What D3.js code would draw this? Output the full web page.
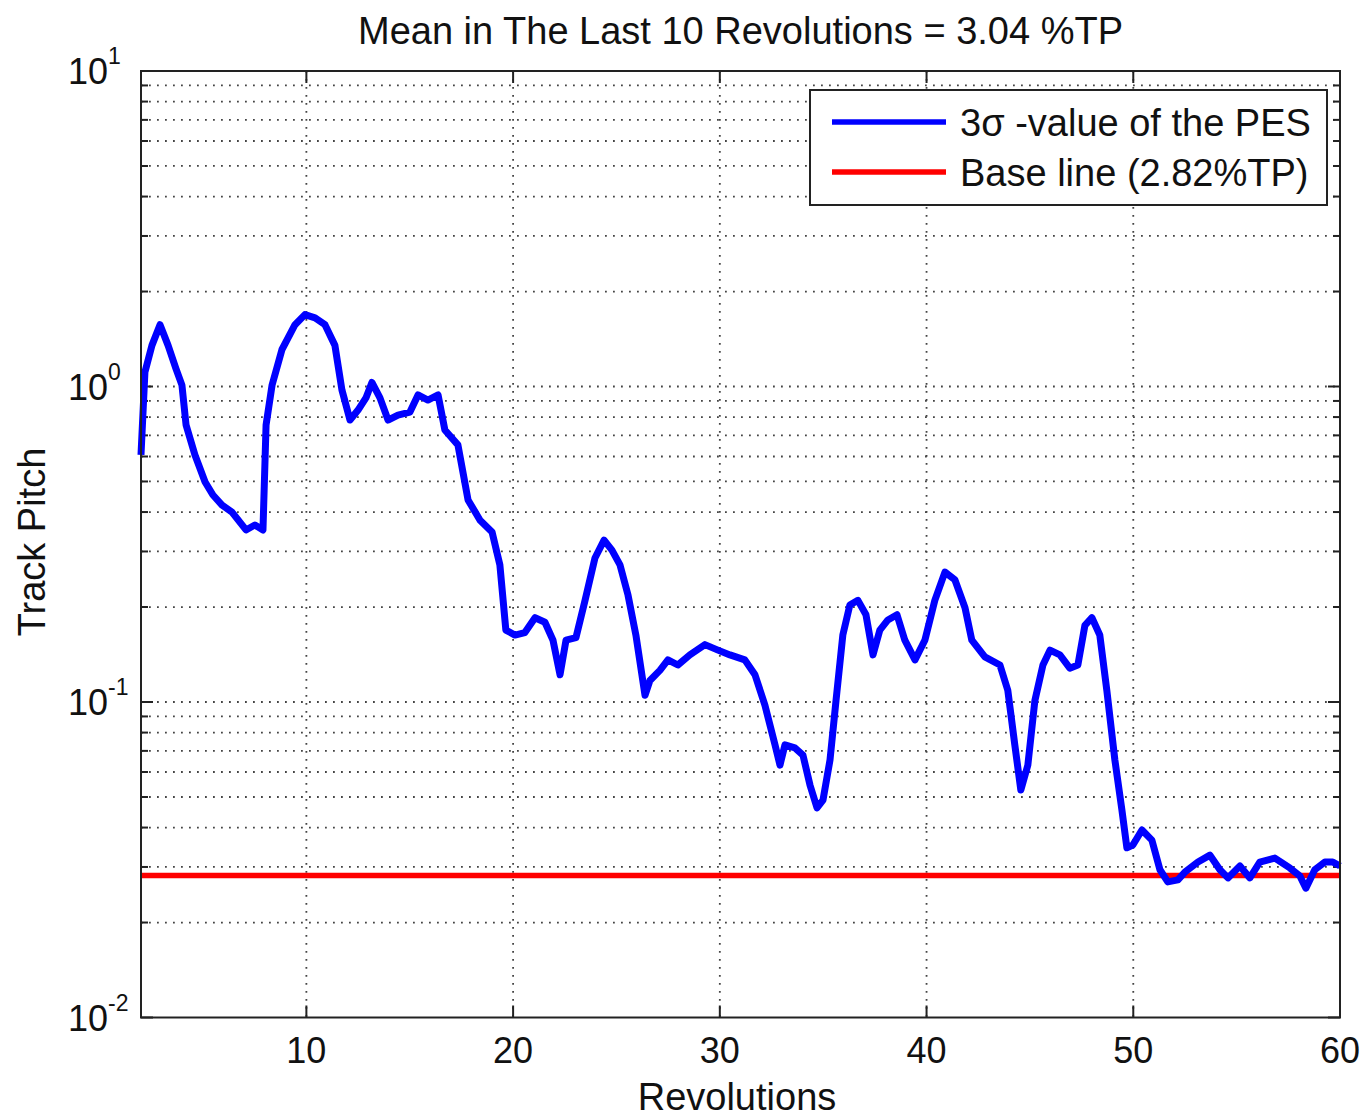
<!DOCTYPE html>
<html>
<head>
<meta charset="utf-8">
<script src="https://cdn.jsdelivr.net/npm/d3@7"></script>
<style>
  body { margin: 0; background: #fff; }
  svg { font-family: "Liberation Sans", Arial, sans-serif; }
</style>
</head>
<body>
<svg width="1364" height="1117"></svg>
<script>
// data
const revolutions = [2.0, 2.19, 2.53, 2.92, 3.31, 3.69, 3.98, 4.18, 4.61, 5.10, 5.48, 5.92, 6.40, 7.08, 7.51, 7.90,
  8.05, 8.34, 8.82, 9.45, 9.93, 10.42, 10.90, 11.38, 11.72, 12.11, 12.50, 12.88, 13.17, 13.56, 13.95, 14.43,
  15.01, 15.40, 15.88, 16.37, 16.70, 17.33, 17.82, 18.40, 18.98, 19.36, 19.65, 20.09, 20.57, 21.06, 21.54,
  21.93, 22.27, 22.56, 23.04, 23.48, 23.96, 24.40, 24.78, 25.17, 25.56, 25.94, 26.38, 26.62, 27.10, 27.49,
  27.97, 28.55, 29.28, 29.91, 30.49, 31.21, 31.70, 32.18, 32.67, 32.91, 33.15, 33.63, 34.02, 34.36, 34.70,
  34.99, 35.33, 35.62, 35.95, 36.29, 36.68, 37.07, 37.41, 37.74, 38.13, 38.57, 38.95, 39.44, 39.92, 40.40,
  40.89, 41.37, 41.86, 42.19, 42.82, 43.55, 43.93, 44.27, 44.56, 44.90, 45.24, 45.63, 45.97, 46.45, 46.93,
  47.32, 47.66, 48.00, 48.38, 48.72, 49.11, 49.45, 49.69, 49.98, 50.42, 50.90, 51.29, 51.67, 52.16, 52.50,
  53.13, 53.71, 54.19, 54.58, 55.16, 55.64, 56.12, 56.85, 57.57, 58.06, 58.35, 58.78, 59.27, 59.65, 60.0];
const pesValues = [0.607, 1.11, 1.35, 1.57, 1.35, 1.14, 1.01, 0.755, 0.607, 0.498, 0.453, 0.421, 0.400, 0.351, 0.364, 0.351,
  0.755, 1.01, 1.31, 1.57, 1.69, 1.65, 1.57, 1.35, 0.975, 0.783, 0.842, 0.92, 1.03, 0.92, 0.783, 0.812,
  0.83, 0.94, 0.906, 0.94, 0.728, 0.653, 0.437, 0.377, 0.346, 0.272, 0.169, 0.163, 0.166, 0.185, 0.179,
  0.157, 0.122, 0.157, 0.160, 0.21, 0.286, 0.326, 0.303, 0.272, 0.218, 0.163, 0.105, 0.117, 0.126, 0.136,
  0.131, 0.141, 0.152, 0.146, 0.141, 0.136, 0.122, 0.0978, 0.0731, 0.0631, 0.0731, 0.0715, 0.0679, 0.0546, 0.0462,
  0.0489, 0.0655, 0.101, 0.163, 0.203, 0.21, 0.189, 0.141, 0.169, 0.182, 0.189, 0.157, 0.136, 0.157, 0.21,
  0.258, 0.244, 0.199, 0.157, 0.139, 0.131, 0.109, 0.0731, 0.0526, 0.0631, 0.101, 0.131, 0.146, 0.141, 0.128,
  0.131, 0.175, 0.185, 0.163, 0.109, 0.0655, 0.0455, 0.0345, 0.0352, 0.0393, 0.0365, 0.0294, 0.0269, 0.0273, 0.0289,
  0.0311, 0.0327, 0.0294, 0.0277, 0.0302, 0.0277, 0.0311, 0.032, 0.0298, 0.0281, 0.0257, 0.0294, 0.0311, 0.0311, 0.0302];
const baseLine = 0.0282;
const xTicks = [10, 20, 30, 40, 50, 60];
const yMajor = [0.01, 0.1, 1, 10];
const yExponents = ['-2', '-1', '0', '1'];
const legendLabels = ['3\u03c3 -value of the PES', 'Base line (2.82%TP)'];
const legendColors = ['#0000ff', '#ff0000'];

const plotL = 141, plotT = 71, plotR = 1340, plotB = 1017.5;
const svg = d3.select('svg');

const x = d3.scaleLinear().domain([2, 60]).range([plotL, plotR]);
const y = d3.scaleLog().domain([0.01, 10]).range([plotB, plotT]);

// minor log ticks 2..9 per decade
const yMinor = [];
for (let k = -2; k < 1; k++) {
  for (let m = 2; m <= 9; m++) yMinor.push(m * Math.pow(10, k));
}

// grid (dotted)
const grid = svg.append('g').attr('stroke', '#444').attr('stroke-width', 1.8)
  .attr('stroke-dasharray', '1.8,6.2');
grid.selectAll('line.h').data(yMinor.concat([0.1, 1])).join('line')
  .attr('class', 'h')
  .attr('x1', plotL).attr('x2', plotR)
  .attr('y1', d => y(d)).attr('y2', d => y(d));
grid.selectAll('line.v').data(xTicks.filter(d => d < 60)).join('line')
  .attr('class', 'v')
  .attr('x1', d => x(d)).attr('x2', d => x(d))
  .attr('y1', plotT).attr('y2', plotB);

// ticks (inward, all four sides)
const ticks = svg.append('g').attr('stroke', '#222').attr('stroke-width', 2);
xTicks.forEach(d => {
  ticks.append('line').attr('x1', x(d)).attr('x2', x(d)).attr('y1', plotB).attr('y2', plotB - 12);
  ticks.append('line').attr('x1', x(d)).attr('x2', x(d)).attr('y1', plotT).attr('y2', plotT + 12);
});
yMajor.concat(yMinor).forEach(d => {
  const len = yMajor.includes(d) ? 12 : 7;
  ticks.append('line').attr('x1', plotL).attr('x2', plotL + len).attr('y1', y(d)).attr('y2', y(d));
  ticks.append('line').attr('x1', plotR).attr('x2', plotR - len).attr('y1', y(d)).attr('y2', y(d));
});

// data lines
svg.append('line')
  .attr('x1', x(2)).attr('x2', x(60))
  .attr('y1', y(baseLine)).attr('y2', y(baseLine))
  .attr('stroke', legendColors[1]).attr('stroke-width', 5.5);

const line = d3.line().x((d, i) => x(revolutions[i])).y(d => y(d));
svg.append('path').datum(pesValues)
  .attr('d', line)
  .attr('fill', 'none')
  .attr('stroke', legendColors[0])
  .attr('stroke-width', 7)
  .attr('stroke-linejoin', 'round');

// frame
svg.append('rect').attr('x', plotL).attr('y', plotT)
  .attr('width', plotR - plotL).attr('height', plotB - plotT)
  .attr('fill', 'none').attr('stroke', '#222').attr('stroke-width', 2);

// x tick labels
svg.append('g').selectAll('text').data(xTicks).join('text')
  .attr('x', d => x(d)).attr('y', plotB + 45)
  .attr('text-anchor', 'middle').attr('font-size', 36).attr('fill', '#111')
  .text(d => d);

// y tick labels 10^k
const yl = svg.append('g').selectAll('text').data(yMajor).join('text')
  .attr('x', 68).attr('y', d => y(d) + 13)
  .attr('font-size', 36).attr('fill', '#111');
yl.append('tspan').text('10');
yl.append('tspan').attr('dy', -20).attr('font-size', 23).text((d, i) => yExponents[i]);

// titles
svg.append('text').attr('x', (plotL + plotR) / 2).attr('y', 44)
  .attr('text-anchor', 'middle').attr('font-size', 38).attr('fill', '#111')
  .text('Mean in The Last 10 Revolutions = 3.04 %TP');
svg.append('text').attr('x', 737).attr('y', 1110)
  .attr('text-anchor', 'middle').attr('font-size', 38).attr('fill', '#111')
  .text('Revolutions');
svg.append('text').attr('transform', 'translate(45,542) rotate(-90)')
  .attr('text-anchor', 'middle').attr('font-size', 38).attr('fill', '#111')
  .text('Track Pitch');

// legend
const lg = svg.append('g');
lg.append('rect').attr('x', 810).attr('y', 90).attr('width', 517).attr('height', 115)
  .attr('fill', '#fff').attr('stroke', '#222').attr('stroke-width', 2);
legendLabels.forEach((lab, i) => {
  const ly = 122 + i * 50;
  lg.append('line').attr('x1', 832).attr('x2', 946).attr('y1', ly).attr('y2', ly)
    .attr('stroke', legendColors[i]).attr('stroke-width', 5.5);
  lg.append('text').attr('x', 960).attr('y', ly + 14)
    .attr('font-size', 38).attr('fill', '#111').text(lab);
});
</script>
</body>
</html>
